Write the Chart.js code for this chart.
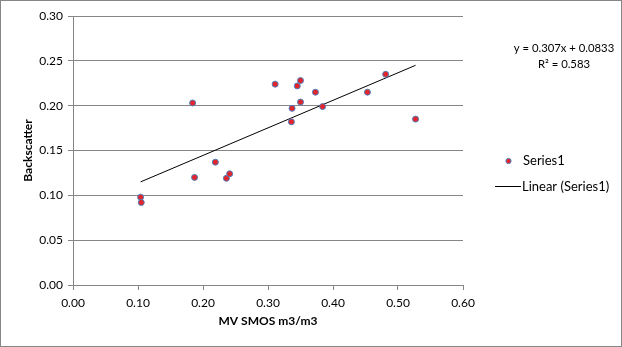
<!DOCTYPE html>
<html>
<head>
<meta charset="utf-8">
<script src="https://cdn.jsdelivr.net/npm/chart.js@4"></script>
<style>
    html, body { margin: 0; padding: 0; background: #fff; }
    #wrap { width: 622px; height: 347px; position: relative; }
</style>
</head>
<body>
<div id="wrap"><canvas id="scatterChart" width="622" height="347"></canvas></div>
<script>
// Scatter data
const mvSmos = [0.104, 0.105, 0.184, 0.187, 0.219, 0.236, 0.241, 0.311, 0.336, 0.337, 0.345, 0.350, 0.350, 0.373, 0.384, 0.453, 0.481, 0.527];
const backscatter = [0.098, 0.092, 0.203, 0.120, 0.137, 0.119, 0.124, 0.224, 0.182, 0.197, 0.222, 0.228, 0.204, 0.215, 0.199, 0.215, 0.235, 0.185];
// Trendline end points
const trendX = [0.104, 0.527];
const trendY = [0.115, 0.245];
const equationLines = ['y = 0.307x + 0.0833', 'R² = 0.583'];
const legendLabels = ['Series1', 'Linear (Series1)'];

const FONT = 'Lato, "Open Sans", sans-serif';
const GRID = '#868686';

// Draws the outer frame, the trendline equation and the legend
const extrasPlugin = {
    id: 'extras',
    afterDraw(chart) {
        const ctx = chart.ctx;
        ctx.save();
        ctx.strokeStyle = GRID;
        ctx.lineWidth = 1;
        ctx.strokeRect(0.5, 0.5, 621, 346);

        ctx.fillStyle = '#000';
        ctx.font = '11.3px ' + FONT;
        ctx.textAlign = 'center';
        ctx.textBaseline = 'middle';
        ctx.fillText(equationLines[0], 564, 48);
        ctx.fillText(equationLines[1], 564, 64);

        // legend
        ctx.beginPath();
        ctx.arc(508.5, 161, 2.6, 0, Math.PI * 2);
        ctx.fillStyle = '#e3242b';
        ctx.fill();
        ctx.strokeStyle = '#4f81bd';
        ctx.lineWidth = 1;
        ctx.stroke();
        ctx.fillStyle = '#000';
        ctx.font = '13px ' + FONT;
        ctx.textAlign = 'left';
        ctx.fillText(legendLabels[0], 523, 161);

        ctx.beginPath();
        ctx.moveTo(495, 186.5);
        ctx.lineTo(521, 186.5);
        ctx.strokeStyle = '#000';
        ctx.stroke();
        ctx.fillText(legendLabels[1], 522, 187);
        ctx.restore();
    }
};

const ctx = document.getElementById('scatterChart').getContext('2d');
new Chart(ctx, {
    type: 'scatter',
    data: {
        datasets: [{
            label: legendLabels[0],
            data: mvSmos.map((x, i) => ({ x: x, y: backscatter[i] })),
            backgroundColor: '#e3242b',
            borderColor: '#4f81bd',
            borderWidth: 1,
            pointRadius: 3,
            order: 1
        }, {
            label: legendLabels[1],
            type: 'line',
            data: trendX.map((x, i) => ({ x: x, y: trendY[i] })),
            borderColor: '#000',
            borderWidth: 1,
            pointRadius: 0,
            fill: false,
            order: 2
        }]
    },
    options: {
        responsive: false,
        animation: false,
        layout: { padding: { left: 3, right: 159, top: 16, bottom: 0 } },
        plugins: { legend: { display: false }, tooltip: { enabled: false } },
        scales: {
            x: {
                type: 'linear',
                min: 0, max: 0.6,
                ticks: { stepSize: 0.1, color: '#000', font: { family: FONT, size: 12 }, padding: 6, callback: v => v.toFixed(2) },
                grid: { drawOnChartArea: false, drawTicks: true, tickLength: 5, color: GRID },
                border: { color: GRID },
                title: { display: true, text: 'MV SMOS m3/m3', color: '#000', font: { family: FONT, size: 12, weight: 'bold' }, padding: { top: 6, bottom: 19 } },
                afterFit(scale) { scale.height = 62; }
            },
            y: {
                min: 0, max: 0.3,
                ticks: { stepSize: 0.05, color: '#000', font: { family: FONT, size: 12 }, padding: 5, callback: v => v.toFixed(2) },
                grid: { color: GRID, drawTicks: true, tickLength: 5 },
                border: { color: GRID },
                title: { display: true, text: 'Backscatter', color: '#000', font: { family: FONT, size: 12, weight: 'bold' }, padding: { top: 18, bottom: 0 } },
                afterFit(scale) { scale.width = 70; }
            }
        }
    },
    plugins: [extrasPlugin]
});
</script>
</body>
</html>
